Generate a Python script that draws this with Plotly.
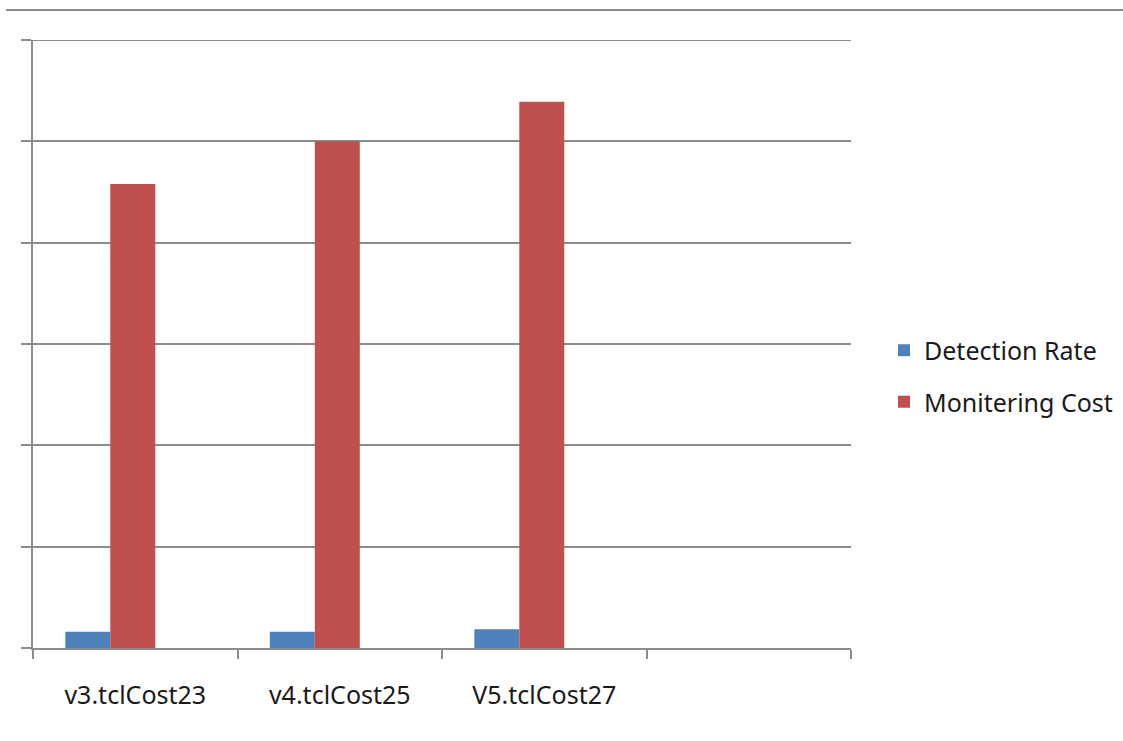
import plotly.graph_objects as go

categories = ["v3.tclCost23", "v4.tclCost25", "V5.tclCost27", " "]
detection_rate = [0.16, 0.16, 0.185, None]
monitoring_cost = [4.58, 5.0, 5.39, None]

BLUE = "#4F81BD"
RED = "#C0504D"
GRID = "#8C8C8C"
FONT = "Noto Sans"
FS = 25

fig = go.Figure()
fig.add_trace(go.Bar(name="Detection Rate", x=categories, y=detection_rate,
                     marker=dict(color=BLUE, line=dict(width=0)),
                     width=0.22, offset=-0.342, legendgroup="a"))
fig.add_trace(go.Bar(name="Monitering Cost", x=categories, y=monitoring_cost,
                     marker=dict(color=RED, line=dict(width=0)),
                     width=0.22, offset=-0.122, legendgroup="b"))

fig.update_layout(
    width=1123, height=741,
    margin=dict(l=33, r=272, t=40, b=93, autoexpand=False),
    paper_bgcolor="white", plot_bgcolor="white",
    font=dict(family=FONT, size=FS, color="#1a1a1a"),
    barmode="group",
    showlegend=True,
    legend=dict(x=1 + 33 / 818, xanchor="left", xref="paper",
                y=0.5 - 32 / 608, yanchor="middle",
                traceorder="grouped", tracegroupgap=16,
                font=dict(family=FONT, size=FS, color="#1a1a1a"),
                itemwidth=30, bgcolor="rgba(0,0,0,0)"),
    xaxis=dict(type="category", categoryorder="array", categoryarray=categories,
               range=[-0.5, 3.5], showgrid=False, showline=True, linecolor=GRID,
               linewidth=2, ticks="outside", tickson="boundaries", ticklen=9,
               tickcolor=GRID, tickwidth=2, ticklabelstandoff=24,
               tickfont=dict(family=FONT, size=FS, color="#1a1a1a")),
    yaxis=dict(range=[0, 6], dtick=1, tick0=0, showgrid=True, gridcolor=GRID,
               gridwidth=2, showline=True, linecolor=GRID, linewidth=2,
               ticks="outside", ticklen=10, tickcolor=GRID, tickwidth=2,
               showticklabels=False, zeroline=False),
    shapes=[
        dict(type="line", xref="paper", yref="paper",
             x0=-27 / 818, x1=1.4, y0=1 + 30 / 608, y1=1 + 30 / 608,
             line=dict(color=GRID, width=2)),
        dict(type="line", xref="paper", yref="y", x0=0, x1=1, y0=6, y1=6,
             line=dict(color=GRID, width=2), layer="below"),
    ],
)

fig.write_html("out.html")
